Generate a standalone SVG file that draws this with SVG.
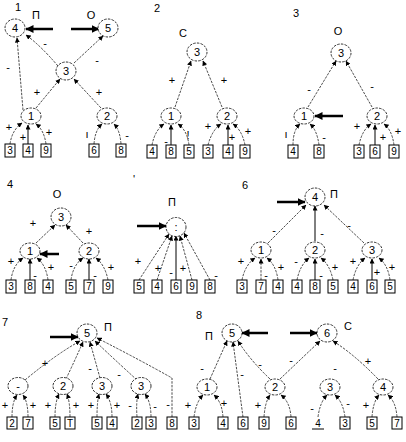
<svg xmlns="http://www.w3.org/2000/svg" width="406" height="442" viewBox="0 0 406 442">
<defs>
<marker id="ah" viewBox="0 0 6 6" refX="5.5" refY="3" markerWidth="5" markerHeight="5" markerUnits="userSpaceOnUse" orient="auto"><path d="M0,0 L6,3 L0,6 z" fill="#000"/></marker>
<marker id="big" viewBox="0 0 8 8" refX="7.5" refY="4" markerWidth="8" markerHeight="8" markerUnits="userSpaceOnUse" orient="auto"><path d="M0,0 L8,4 L0,8 z" fill="#000"/></marker>
</defs>
<style>
text{font-family:"Liberation Sans",Arial,sans-serif;fill:#000}
.n ellipse{fill:#fff;stroke:#000;stroke-width:0.8;stroke-dasharray:2.5,1.2}
.n text{font-size:11px;text-anchor:middle;dominant-baseline:central}
.b rect{fill:#fff;stroke:#000;stroke-width:1}
.b text{font-size:10px;text-anchor:middle;dominant-baseline:central}
.e path{fill:none;stroke:#000;stroke-width:0.7;stroke-dasharray:2.5,1.2;marker-end:url(#ah)}
.e path.s{stroke-dasharray:none;stroke-width:1}
.t line{stroke:#000;stroke-width:2.5;marker-end:url(#big)}
.l text{font-size:11px;text-anchor:middle;dominant-baseline:central}
.h text{font-size:11px;text-anchor:middle;dominant-baseline:central}
</style>

<g id="connectors" class="e">
<!-- panel 1 -->
<path d="M58,66 Q40,45 26,35"/>
<path d="M74,63 L103,36"/>
<path d="M36,108 L60,79"/>
<path d="M101,108 L74,79"/>
<path d="M23,110 L17,38"/>
<path d="M10,144 Q12,130 22,123"/>
<path class="s" d="M28,144 L28,125"/>
<path d="M46,144 Q44,130 36,124"/>
<path d="M94,144 Q95,130 102,124"/>
<path d="M121,144 Q120,130 114,124"/>
<!-- panel 2 -->
<path d="M175,107 L191,61"/>
<path d="M222,107 L203,61"/>
<path d="M152,145 Q155,130 164,124"/>
<path class="s" d="M171,145 L171,125"/>
<path d="M189,145 Q187,130 178,124"/>
<path d="M208,145 Q212,130 221,124"/>
<path class="s" d="M228,145 L228,125"/>
<path d="M245,145 Q242,130 233,124"/>
<!-- panel 3 -->
<path d="M308,107 L336,61"/>
<path d="M372,107 L346,61"/>
<path d="M293,145 Q293,130 300,124"/>
<path d="M319,145 Q317,130 310,124"/>
<path d="M359,145 Q362,130 371,124"/>
<path class="s" d="M375,145 L375,125"/>
<path d="M394,145 Q392,130 384,124"/>
<!-- panel 4 -->
<path d="M36,243 L55,225"/>
<path d="M83,243 L66,225"/>
<path d="M11,280 Q13,265 23,258"/>
<path class="s" d="M30,280 L30,259"/>
<path d="M48,280 Q46,265 37,258"/>
<path d="M71,280 Q73,265 83,258"/>
<path class="s" d="M89,280 L89,259"/>
<path d="M108,280 Q105,265 96,258"/>
<!-- panel 5 -->
<path d="M139,280 L169,234"/>
<path d="M157,280 L172,236"/>
<path class="s" d="M176,280 L176,236"/>
<path d="M192,280 L180,236"/>
<path d="M210,280 L184,233"/>
<!-- panel 6 -->
<path d="M268,243 L306,205"/>
<path class="s" d="M315,241 L315,206"/>
<path d="M364,243 L324,205"/>
<path d="M242,280 Q245,265 255,258"/>
<path d="M261,280 L261,259"/>
<path d="M278,280 Q276,265 267,258"/>
<path d="M297,280 Q300,265 309,258"/>
<path class="s" d="M315,280 L315,259"/>
<path d="M333,280 Q330,265 321,258"/>
<path d="M353,280 Q356,265 365,258"/>
<path class="s" d="M372,280 L372,259"/>
<path d="M390,280 Q388,265 379,258"/>
<!-- panel 7 -->
<path d="M25,380 Q55,355 80,341"/>
<path d="M66,379 Q75,360 83,342"/>
<path d="M100,378 Q95,360 90,342"/>
<path d="M137,380 Q115,360 95,341"/>
<path d="M172,417 L172,378 Q140,360 97,338"/>
<path d="M12,417 Q12,402 17,395"/>
<path d="M28,417 Q28,402 23,395"/>
<path d="M55,417 Q55,402 59,394"/>
<path d="M70,417 Q70,402 67,394"/>
<path d="M97,417 Q97,402 99,394"/>
<path d="M112,417 Q112,402 106,394"/>
<path d="M137,417 Q136,402 138,394"/>
<path d="M151,417 Q151,402 145,394"/>
<!-- panel 8 -->
<path d="M210,379 L227,341"/>
<path d="M243,417 L233,342"/>
<path d="M270,379 Q250,360 238,341"/>
<path d="M280,379 L320,341"/>
<path d="M378,379 Q355,355 333,341"/>
<path d="M194,417 Q196,402 203,395"/>
<path d="M223,417 Q222,402 214,395"/>
<path d="M264,417 Q265,402 270,395"/>
<path d="M291,417 Q290,402 281,395"/>
<path d="M318,417 Q320,402 327,395"/>
<path d="M345,417 Q343,402 335,395"/>
<path d="M372,417 Q373,402 379,395"/>
<path d="M397,417 Q396,402 388,395"/>
</g>

<g id="thick-arrows" class="t">
<line x1="53" y1="29" x2="26" y2="29"/>
<line x1="71" y1="29" x2="99" y2="29"/>
<line x1="343" y1="116" x2="315" y2="116"/>
<line x1="59" y1="254" x2="40" y2="254"/>
<line x1="137" y1="226" x2="166" y2="226"/>
<line x1="277" y1="202" x2="305" y2="202"/>
<line x1="50" y1="337" x2="78" y2="337"/>
<line x1="268" y1="333" x2="242" y2="333"/>
<line x1="290" y1="333" x2="317" y2="333"/>
</g>

<g id="panel-titles" class="h">
<text x="18" y="7">1</text>
<text x="157" y="8">2</text>
<text x="296" y="13">3</text>
<text x="10" y="184">4</text>
<text x="134" y="179">'</text>
<text x="245" y="185">6</text>
<text x="5" y="322">7</text>
<text x="199" y="315">8</text>
</g>

<g id="labels" class="l">
<!-- panel 1 -->
<text x="36" y="15">П</text><text x="91" y="15">О</text>
<text x="45" y="43">-</text><text x="97" y="60">-</text>
<text x="8" y="67">-</text>
<text x="37" y="92">+</text><text x="99" y="92">+</text>
<text x="9" y="127">+</text><text x="23" y="137">+</text><text x="49" y="132">+</text>
<text x="87" y="134">ı</text><text x="127" y="135">-</text>
<!-- panel 2 -->
<text x="183" y="33">С</text>
<text x="172" y="80">+</text><text x="224" y="80">+</text>
<text x="166" y="141">-</text><text x="188" y="135">!</text>
<text x="208" y="126">+</text><text x="232" y="137">+</text><text x="248" y="131">+</text>
<!-- panel 3 -->
<text x="338" y="31">О</text>
<text x="309" y="89">-</text><text x="372" y="86">-</text>
<text x="286" y="134">ı</text><text x="324" y="137">-</text>
<text x="357" y="126">+</text><text x="383" y="137">+</text><text x="398" y="131">+</text>
<!-- panel 4 -->
<text x="57" y="194">О</text>
<text x="33" y="223">+</text><text x="89" y="231">+</text>
<text x="11" y="261">+</text><text x="35" y="275">-</text><text x="51" y="267">+</text>
<text x="71" y="265">-</text><text x="95" y="275">-</text><text x="111" y="267">+</text>
<!-- panel 5 -->
<text x="172" y="202">П</text>
<text x="138" y="261">+</text><text x="158" y="268">+</text><text x="171" y="272">-</text>
<text x="183" y="268">+</text><text x="216" y="275">-</text>
<!-- panel 6 -->
<text x="334" y="194">П</text>
<text x="274" y="230">-</text><text x="322" y="233">-</text><text x="349" y="225">-</text>
<text x="241" y="261">+</text><text x="266" y="275">-</text><text x="281" y="267">+</text>
<text x="296" y="261">-</text><text x="321" y="275">-</text><text x="335" y="267">+</text>
<text x="353" y="261">+</text><text x="377" y="272">+</text><text x="392" y="267">+</text>
<!-- panel 7 -->
<text x="108" y="327">П</text>
<text x="45" y="363">+</text><text x="90" y="368">-</text><text x="119" y="374">-</text>
<text x="5" y="405">+</text><text x="33" y="405">+</text><text x="48" y="405">+</text>
<text x="76" y="405">+</text><text x="91" y="405">+</text><text x="117" y="405">+</text>
<text x="130" y="405">-</text><text x="155" y="406">-</text><text x="168" y="404">-</text>
<text x="188" y="405">+</text>
<!-- panel 8 -->
<text x="209" y="336">П</text><text x="348" y="326">С</text>
<text x="202" y="368">-</text><text x="242" y="374">-</text><text x="260" y="364">-</text>
<text x="291" y="360">-</text><text x="335" y="368">-</text><text x="368" y="361">+</text>
<text x="224" y="403">+</text><text x="258" y="405">+</text><text x="312" y="408">-</text>
<text x="348" y="403">-</text><text x="366" y="405">+</text>
</g>

<!-- nodes: panel 1 -->
<g id="p1-n4" class="n"><ellipse cx="15" cy="28" rx="10" ry="9"/><text x="15" y="28">4</text></g>
<g id="p1-n5" class="n"><ellipse cx="108" cy="28" rx="10" ry="9"/><text x="108" y="28">5</text></g>
<g id="p1-n3" class="n"><ellipse cx="66" cy="71" rx="10" ry="9"/><text x="66" y="71">3</text></g>
<g id="p1-n1" class="n"><ellipse cx="31" cy="116" rx="10" ry="8"/><text x="31" y="116">1</text></g>
<g id="p1-n2" class="n"><ellipse cx="107" cy="116" rx="10" ry="8"/><text x="107" y="116">2</text></g>
<!-- panel 2 -->
<g id="p2-n3" class="n"><ellipse cx="197" cy="52" rx="10" ry="9"/><text x="197" y="52">3</text></g>
<g id="p2-n1" class="n"><ellipse cx="171" cy="116" rx="10" ry="8"/><text x="171" y="116">1</text></g>
<g id="p2-n2" class="n"><ellipse cx="227" cy="116" rx="10" ry="8"/><text x="227" y="116">2</text></g>
<!-- panel 3 -->
<g id="p3-n3" class="n"><ellipse cx="341" cy="53" rx="10" ry="9"/><text x="341" y="53">3</text></g>
<g id="p3-n1" class="n"><ellipse cx="304" cy="116" rx="10" ry="8"/><text x="304" y="116">1</text></g>
<g id="p3-n2" class="n"><ellipse cx="377" cy="116" rx="10" ry="8"/><text x="377" y="116">2</text></g>
<!-- panel 4 -->
<g id="p4-n3" class="n"><ellipse cx="61" cy="217" rx="10" ry="9"/><text x="61" y="217">3</text></g>
<g id="p4-n1" class="n"><ellipse cx="30" cy="251" rx="10" ry="8"/><text x="30" y="251">1</text></g>
<g id="p4-n2" class="n"><ellipse cx="89" cy="251" rx="10" ry="8"/><text x="89" y="251">2</text></g>
<!-- panel 5 -->
<g id="p5-n" class="n"><ellipse cx="176" cy="227" rx="10" ry="9.5"/><text x="176" y="227">:</text></g>
<!-- panel 6 -->
<g id="p6-n4" class="n"><ellipse cx="315" cy="197" rx="10" ry="9"/><text x="315" y="197">4</text></g>
<g id="p6-n1" class="n"><ellipse cx="261" cy="250" rx="10" ry="8"/><text x="261" y="250">1</text></g>
<g id="p6-n2" class="n"><ellipse cx="315" cy="250" rx="10" ry="8"/><text x="315" y="250">2</text></g>
<g id="p6-n3" class="n"><ellipse cx="372" cy="250" rx="10" ry="8"/><text x="372" y="250">3</text></g>
<!-- panel 7 -->
<g id="p7-n5" class="n"><ellipse cx="87" cy="333" rx="10" ry="9"/><text x="87" y="333">5</text></g>
<g id="p7-n1" class="n"><ellipse cx="18" cy="386" rx="10" ry="8.5"/><text x="18" y="386">-</text></g>
<g id="p7-n2" class="n"><ellipse cx="63" cy="386" rx="10" ry="8.5"/><text x="63" y="386">2</text></g>
<g id="p7-n3" class="n"><ellipse cx="102" cy="386" rx="10" ry="8.5"/><text x="102" y="386">3</text></g>
<g id="p7-n3b" class="n"><ellipse cx="141" cy="386" rx="10" ry="8.5"/><text x="141" y="386">3</text></g>
<!-- panel 8 -->
<g id="p8-n5" class="n"><ellipse cx="232" cy="333" rx="10" ry="9"/><text x="232" y="333">5</text></g>
<g id="p8-n6" class="n"><ellipse cx="327" cy="333" rx="10" ry="9"/><text x="327" y="333">6</text></g>
<g id="p8-n1" class="n"><ellipse cx="207" cy="387" rx="10" ry="8"/><text x="207" y="387">1</text></g>
<g id="p8-n2" class="n"><ellipse cx="275" cy="387" rx="10" ry="8"/><text x="275" y="387">2</text></g>
<g id="p8-n3" class="n"><ellipse cx="330" cy="387" rx="10" ry="8"/><text x="330" y="387">3</text></g>
<g id="p8-n4" class="n"><ellipse cx="383" cy="387" rx="10" ry="8"/><text x="383" y="387">4</text></g>

<!-- leaf boxes -->
<g id="p1-leaves" class="b">
<rect x="5" y="144" width="10" height="13"/><text x="10" y="150.5">3</text>
<rect x="23" y="144" width="10" height="13"/><text x="28" y="150.5">4</text>
<rect x="41" y="144" width="10" height="13"/><text x="46" y="150.5">9</text>
<rect x="89" y="144" width="10" height="13"/><text x="94" y="150.5">6</text>
<rect x="116" y="144" width="10" height="13"/><text x="121" y="150.5">8</text>
</g>
<g id="p2-leaves" class="b">
<rect x="147" y="145" width="10" height="13"/><text x="152" y="151.5">4</text>
<rect x="166" y="145" width="10" height="13"/><text x="171" y="151.5">8</text>
<rect x="184" y="145" width="10" height="13"/><text x="189" y="151.5">5</text>
<rect x="203" y="145" width="10" height="13"/><text x="208" y="151.5">3</text>
<rect x="223" y="145" width="10" height="13"/><text x="228" y="151.5">4</text>
<rect x="240" y="145" width="10" height="13"/><text x="245" y="151.5">9</text>
</g>
<g id="p3-leaves" class="b">
<rect x="288" y="145" width="10" height="13"/><text x="293" y="151.5">4</text>
<rect x="314" y="145" width="10" height="13"/><text x="319" y="151.5">8</text>
<rect x="354" y="145" width="10" height="13"/><text x="359" y="151.5">3</text>
<rect x="370" y="145" width="10" height="13"/><text x="375" y="151.5">6</text>
<rect x="389" y="145" width="10" height="13"/><text x="394" y="151.5">9</text>
</g>
<g id="p4-leaves" class="b">
<rect x="6" y="280" width="10" height="13"/><text x="11" y="286.5">3</text>
<rect x="25" y="280" width="10" height="13"/><text x="30" y="286.5">8</text>
<rect x="43" y="280" width="10" height="13"/><text x="48" y="286.5">4</text>
<rect x="66" y="280" width="10" height="13"/><text x="71" y="286.5">5</text>
<rect x="84" y="280" width="10" height="13"/><text x="89" y="286.5">7</text>
<rect x="103" y="280" width="10" height="13"/><text x="108" y="286.5">9</text>
</g>
<g id="p5-leaves" class="b">
<rect x="134" y="280" width="10" height="13"/><text x="139" y="286.5">5</text>
<rect x="152" y="280" width="10" height="13"/><text x="157" y="286.5">4</text>
<rect x="171" y="280" width="10" height="13"/><text x="176" y="286.5">6</text>
<rect x="187" y="280" width="10" height="13"/><text x="192" y="286.5">9</text>
<rect x="205" y="280" width="10" height="13"/><text x="210" y="286.5">8</text>
</g>
<g id="p6-leaves" class="b">
<rect x="237" y="280" width="10" height="13"/><text x="242" y="286.5">3</text>
<rect x="256" y="280" width="10" height="13"/><text x="261" y="286.5">7</text>
<rect x="273" y="280" width="10" height="13"/><text x="278" y="286.5">4</text>
<rect x="292" y="280" width="10" height="13"/><text x="297" y="286.5">4</text>
<rect x="310" y="280" width="10" height="13"/><text x="315" y="286.5">8</text>
<rect x="328" y="280" width="10" height="13"/><text x="333" y="286.5">5</text>
<rect x="348" y="280" width="10" height="13"/><text x="353" y="286.5">4</text>
<rect x="367" y="280" width="10" height="13"/><text x="372" y="286.5">6</text>
<rect x="385" y="280" width="10" height="13"/><text x="390" y="286.5">5</text>
</g>
<g id="p7-leaves" class="b">
<rect x="7" y="417" width="10" height="12"/><text x="12" y="423">2</text>
<rect x="23" y="417" width="10" height="12"/><text x="28" y="423">7</text>
<rect x="50" y="417" width="10" height="12"/><text x="55" y="423">5</text>
<rect x="65" y="417" width="10" height="12"/><text x="70" y="423">T</text>
<rect x="92" y="417" width="10" height="12"/><text x="97" y="423">5</text>
<rect x="107" y="417" width="10" height="12"/><text x="112" y="423">4</text>
<rect x="132" y="417" width="10" height="12"/><text x="137" y="423">2</text>
<rect x="146" y="417" width="10" height="12"/><text x="151" y="423">3</text>
<rect x="167" y="417" width="10" height="12"/><text x="172" y="423">8</text>
</g>
<g id="p8-leaves" class="b">
<rect x="189" y="417" width="10" height="12"/><text x="194" y="423">3</text>
<rect x="218" y="417" width="10" height="12"/><text x="223" y="423">4</text>
<rect x="238" y="417" width="10" height="12"/><text x="243" y="423">6</text>
<rect x="259" y="417" width="10" height="12"/><text x="264" y="423">9</text>
<rect x="286" y="417" width="10" height="12"/><text x="291" y="423">6</text>
<text x="318" y="423">4</text><line x1="312" y1="429" x2="324" y2="429" stroke="#000" stroke-width="1"/>
<rect x="340" y="417" width="10" height="12"/><text x="345" y="423">3</text>
<rect x="367" y="417" width="10" height="12"/><text x="372" y="423">5</text>
<rect x="392" y="417" width="10" height="12"/><text x="397" y="423">7</text>
</g>
</svg>
